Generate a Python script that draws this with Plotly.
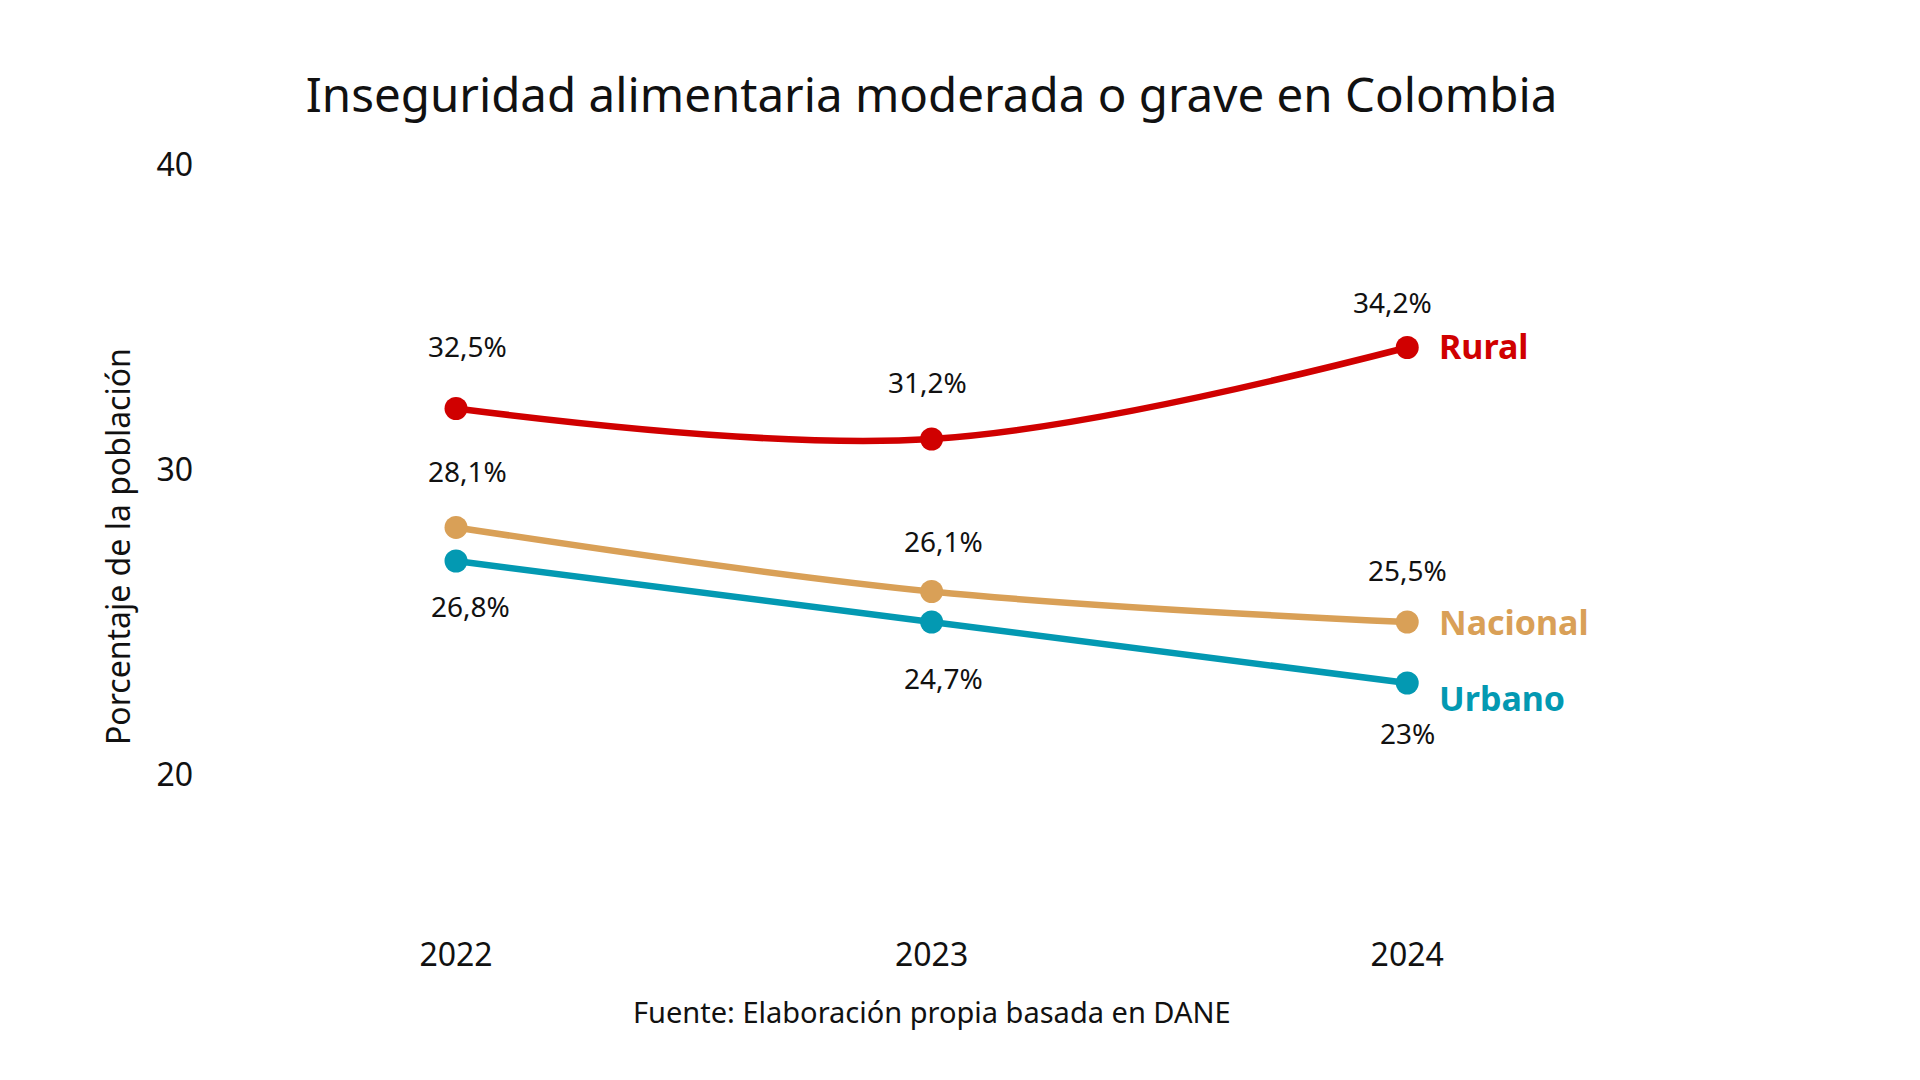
import plotly.graph_objects as go

years = [2022, 2023, 2024]
series_names = ["Rural", "Nacional", "Urbano"]

rural = [32.0, 31.0, 34.0]
nacional = [28.1, 26.0, 25.0]
urbano = [27.0, 25.0, 23.0]

rural_labels = ["32,5%", "31,2%", "34,2%"]
nacional_labels = ["28,1%", "26,1%", "25,5%"]
urbano_labels = ["26,8%", "24,7%", "23%"]

y_ticks = [20, 30, 40]

colors = {"Rural": "#d00000", "Nacional": "#d9a057", "Urbano": "#0399b2"}
# (xshift, yshift) of each value label, in px
label_offsets = {
    "Rural": [(11, 63), (-4, 57), (-15, 46)],
    "Nacional": [(11, 56), (12, 51), (0, 52)],
    "Urbano": [(14, -45), (12, -56), (0, -50)],
}
name_shift = {"Rural": 2, "Nacional": 0, "Urbano": -15}

data = {"Rural": (rural, rural_labels),
        "Nacional": (nacional, nacional_labels),
        "Urbano": (urbano, urbano_labels)}

fnt = "Noto Sans"
L, R, T, B = 195, 230, 126, 161
plot_w = 1920 - L - R
plot_h = 1080 - T - B

fig = go.Figure()
for name in series_names:
    vals, labs = data[name]
    fig.add_trace(go.Scatter(
        x=years, y=vals, mode="lines+markers", name=name,
        line=dict(color=colors[name], width=6.5, shape="spline", smoothing=1),
        marker=dict(color=colors[name], size=23),
        cliponaxis=False, showlegend=False))
    for i in range(len(years)):
        dx, dy = label_offsets[name][i]
        fig.add_annotation(x=years[i], y=vals[i], text=labs[i], showarrow=False,
                           xshift=dx, yshift=dy,
                           font=dict(family=fnt, size=28, color="#111111"))
    fig.add_annotation(x=years[-1], y=vals[-1], text="<b>" + name + "</b>",
                       showarrow=False, xanchor="left", xshift=30,
                       yshift=name_shift[name],
                       font=dict(family=fnt, size=34, color=colors[name]))

# footer
fig.add_annotation(x=(924 - L) / plot_w, y=(1080 - 1003 - B) / plot_h,
                   xref="paper", yref="paper", xanchor="center", yanchor="middle",
                   text="Fuente: Elaboración propia basada en DANE", showarrow=False,
                   font=dict(family=fnt, size=29, color="#111111"))
# y axis title
fig.add_annotation(x=(109 - L) / plot_w, y=(1080 - 539 - B) / plot_h,
                   xref="paper", yref="paper", xanchor="center", yanchor="middle",
                   textangle=-90,
                   text="Porcentaje de la población", showarrow=False,
                   font=dict(family=fnt, size=32, color="#111111"))

fig.update_layout(
    width=1920, height=1080,
    paper_bgcolor="white", plot_bgcolor="white",
    margin=dict(l=L, r=R, t=T, b=B),
    title=dict(text="Inseguridad alimentaria moderada o grave en Colombia",
               x=0.481, xanchor="center", y=1 - 87 / 1080, yanchor="middle",
               font=dict(family=fnt, size=47.5, color="#111111")),
    font=dict(family=fnt, color="#111111"),
)
fig.update_xaxes(range=[2021.468, 2021.468 + plot_w / 475.6], tickvals=years,
                 showgrid=False, zeroline=False, showline=False,
                 tickfont=dict(size=32), ticklabelstandoff=6)
fig.update_yaxes(range=[15, 41], tickvals=y_ticks, showgrid=False,
                 zeroline=False, showline=False, tickfont=dict(size=32),
                 ticklabelstandoff=9)

fig.write_html("out.html")
